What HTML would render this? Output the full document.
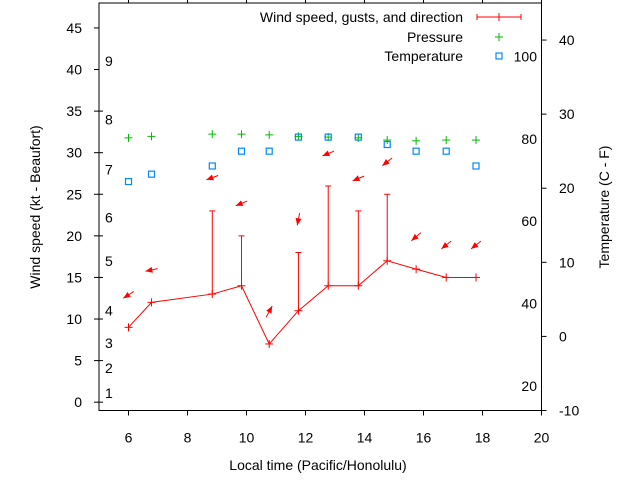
<!DOCTYPE html>
<html><head><meta charset="utf-8"><style>
body{margin:0;background:#fff;}
svg{display:block;font-family:"Liberation Sans",sans-serif;font-size:14px;}
</style></head><body>
<svg id="chart" width="640" height="480" xmlns="http://www.w3.org/2000/svg">
<g id="axes"></g>
<g id="marks"></g>
<g id="legend">
  <text x="463" y="22" text-anchor="end">Wind speed, gusts, and direction</text>
  <g stroke="#f00" stroke-width="1">
    <line x1="477" y1="17" x2="521" y2="17"/><line x1="477" y1="14" x2="477" y2="20"/><line x1="521" y1="14" x2="521" y2="20"/><line x1="499" y1="13" x2="499" y2="21"/>
  </g>
  <text x="463" y="42" text-anchor="end">Pressure</text>
  <g stroke="#0b0" stroke-width="1"><line x1="495" y1="37" x2="503" y2="37"/><line x1="499" y1="33" x2="499" y2="41"/></g>
  <text x="463" y="61" text-anchor="end">Temperature</text>
  <rect x="496" y="53" width="6" height="6" fill="none" stroke="#08f" stroke-width="1.2"/>
</g>
<text x="318" y="470" text-anchor="middle">Local time (Pacific/Honolulu)</text>
<text transform="translate(40,207) rotate(-90)" text-anchor="middle">Wind speed (kt - Beaufort)</text>
<text transform="translate(609,207) rotate(-90)" text-anchor="middle">Temperature (C - F)</text>
</svg>
<script>
const hours=[6.0,6.78,8.84,9.83,10.77,11.76,12.77,13.79,14.77,15.75,16.77,17.78];
const windSpeed=[9,12,13,14,7,11,14,14,17,16,15,15];
const gusts=[null,null,23,20,null,18,26,23,25,null,null,null];
const arrowY=[12.9,15.9,27.0,23.9,10.9,22.0,29.9,26.9,28.9,19.9,18.9,18.9];
const arrowAngle=[213,192,200,202,62,259,202,202,218,220,218,218];
const pressure=[26.8,27.0,27.3,27.3,27.2,27.0,26.9,26.8,26.5,26.4,26.5,26.5];
const temperatureC=[20.9,21.9,23.0,25.0,25.0,26.9,26.9,26.9,25.9,25.0,25.0,23.0];
const xTicks=[6,8,10,12,14,16,18,20];
const yTicks=[0,5,10,15,20,25,30,35,40,45];
const y2Ticks=[-10,0,10,20,30,40];
const fTicks=[20,40,60,80,100];
const beaufortLabels=["1","2","3","4","5","6","7","8","9"];
const beaufortKt=[1.1,4.1,7.1,11.0,17.0,22.2,28.0,34.0,41.0];

const L=99,R=541.5,T=3,B=410.5;
const X=v=>L+(v-5)/15*(R-L);
const Y=v=>B-(v+1)/49*(B-T);
const Y2=v=>B-(v+10)/55*(B-T);
const YF=f=>Y2((f-32)*5/9);
const NS="http://www.w3.org/2000/svg";
function mk(tag,attrs,parent,txt){const e=document.createElementNS(NS,tag);for(const k in attrs)e.setAttribute(k,attrs[k]);if(txt!==undefined)e.textContent=txt;parent.appendChild(e);return e;}
const ax=document.getElementById('axes'),mg=document.getElementById('marks');
let e=mk('rect',{x:L,y:T,width:R-L,height:B-T,fill:'none',stroke:'#000','stroke-width':1},ax);


xTicks.forEach(v=>{
  mk('line',{x1:X(v),x2:X(v),y1:B,y2:B+5,stroke:'#000'},ax);
  mk('line',{x1:X(v),x2:X(v),y1:T,y2:T-4,stroke:'#000'},ax);
  e=mk('text',{x:X(v),y:B+32,'text-anchor':'middle'},ax,v);
  
  
});
yTicks.forEach(v=>{
  mk('line',{x1:L-5,x2:L,y1:Y(v),y2:Y(v),stroke:'#000'},ax);
  if(v<=35)mk('line',{x1:L,x2:L+4,y1:Y(v),y2:Y(v),stroke:'#000'},ax);
  e=mk('text',{x:L-17,y:Y(v)+5,'text-anchor':'end'},ax,v);
  
  
});
y2Ticks.forEach(v=>{
  mk('line',{x1:R,x2:R+5,y1:Y2(v),y2:Y2(v),stroke:'#000'},ax);
  e=mk('text',{x:559,y:Y2(v)+5},ax,v);
  
  
});
fTicks.forEach(v=>{
  e=mk('text',{x:537,y:YF(v)+5,'text-anchor':'end'},ax,v);
  
  
});
beaufortLabels.forEach((s,i)=>{
  e=mk('text',{x:105,y:Y(beaufortKt[i])+5},ax,s);
  
  
});
// pressure
pressure.forEach((p,i)=>{
  const g=mk('g',{stroke:'#0b0','stroke-width':1},mg);
  
  
  mk('line',{x1:X(hours[i])-4,x2:X(hours[i])+4,y1:Y2(p),y2:Y2(p)},g);
  mk('line',{x1:X(hours[i]),x2:X(hours[i]),y1:Y2(p)-4,y2:Y2(p)+4},g);
});
// temperature
temperatureC.forEach((t,i)=>{
  e=mk('rect',{x:X(hours[i])-3,y:Y2(t)-3,width:6,height:6,fill:'none',stroke:'#08f','stroke-width':1.2},mg);
  
  
});
// wind line
e=mk('polyline',{points:hours.map((h,i)=>X(h)+','+Y(windSpeed[i])).join(' '),fill:'none',stroke:'#f00','stroke-width':1},mg);


hours.forEach((h,i)=>{
  const g=mk('g',{stroke:'#f00','stroke-width':1},mg);
  
  
  const x=X(h),y=Y(windSpeed[i]);
  mk('line',{x1:x-4,x2:x+4,y1:y,y2:y},g);mk('line',{x1:x,x2:x,y1:y-4,y2:y+4},g);
  if(gusts[i]!==null){
    const gy=Y(gusts[i]);
    mk('line',{x1:x,x2:x,y1:y,y2:gy},g);mk('line',{x1:x-3,x2:x+3,y1:gy,y2:gy},g);
  }
  // direction arrow
  const a=arrowAngle[i]*Math.PI/180,len=12.5,cx=x,cy=Y(arrowY[i]);
  const dx=Math.cos(a)*len/2,dy=-Math.sin(a)*len/2;
  const hx=cx+dx,hy=cy+dy,ux=Math.cos(a),uy=-Math.sin(a);
  const ar=mk('g',{},mg);
  
  
  mk('line',{x1:cx-dx,y1:cy-dy,x2:hx,y2:hy,stroke:'#f00','stroke-width':1},ar);
  const bx=hx-ux*7,by=hy-uy*7,px=-uy*3,py=ux*3;
  mk('polygon',{points:`${hx},${hy} ${bx+px},${by+py} ${bx-px},${by-py}`,fill:'#f00'},ar);
});
</script>
</body></html>
